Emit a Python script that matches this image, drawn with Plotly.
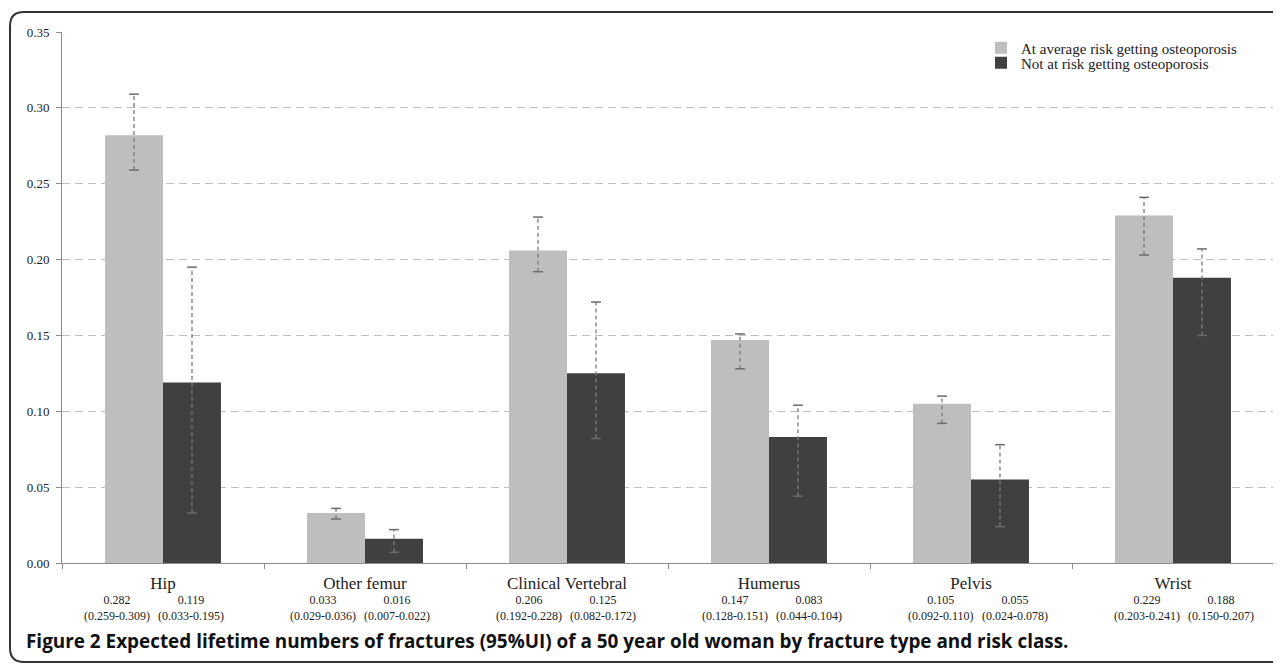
import plotly.graph_objects as go

categories = ["Hip", "Other femur", "Clinical Vertebral", "Humerus", "Pelvis", "Wrist"]
avg_risk = [0.282, 0.033, 0.206, 0.147, 0.105, 0.229]
avg_lo = [0.259, 0.029, 0.192, 0.128, 0.092, 0.203]
avg_hi = [0.309, 0.036, 0.228, 0.151, 0.110, 0.241]
no_risk = [0.119, 0.016, 0.125, 0.083, 0.055, 0.188]
no_lo = [0.033, 0.007, 0.082, 0.044, 0.024, 0.150]
no_hi = [0.195, 0.022, 0.172, 0.104, 0.078, 0.207]
series_names = ["At average risk getting osteoporosis", "Not at risk getting osteoporosis"]
y_ticks = [0.0, 0.05, 0.10, 0.15, 0.20, 0.25, 0.30, 0.35]
caption = "<b>Figure 2 Expected lifetime numbers of fractures (95%UI) of a 50 year old woman by fracture type and risk class.</b>"

# page has an 8px body margin; layout numbers below are in window pixels
OFF = 8
W, H = 1281 - OFF, 665 - OFF
PL, PR, PT, PB = 62, 1274, 32, 563          # plot area in window pixels
L, R, T, B = PL - OFF, W - (PR - OFF), PT - OFF, H - (PB - OFF)
PW, PH = PR - PL, PB - PT
BARGAP = 0.426
SERIF = "Liberation Serif, Times New Roman, serif"

def px_x(px):
    return (px - PL) / PW

def px_y(py):
    return (PB - py) / PH

fig = go.Figure()
colors = ["#bebebe", "#404040"]
for name, vals, col, grp, lg in [(series_names[0], avg_risk, colors[0], "a", "legend"),
                                  (series_names[1], no_risk, colors[1], "b", "legend2")]:
    fig.add_trace(go.Bar(x=categories, y=vals, name=name, marker_color=col,
                         marker_line_width=0, offsetgroup=grp, legend=lg))

def err_trace(lo, hi, grp):
    xs, ys = [], []
    for c, l, h in zip(categories, lo, hi):
        xs += [c, c, c]
        ys += [l, h, None]
    return go.Scatter(x=xs, y=ys, mode="lines+markers", offsetgroup=grp,
                      line=dict(color="#7a7a7a", width=1.3, dash="4px,3px"),
                      marker=dict(symbol="line-ew", size=7,
                                  line=dict(color="#6a6a6a", width=1.5)),
                      showlegend=False, hoverinfo="skip", connectgaps=False)

fig.add_trace(err_trace(avg_lo, avg_hi, "a"))
fig.add_trace(err_trace(no_lo, no_hi, "b"))

# value labels under each category (two columns)
annotations = []
for i, c in enumerate(categories):
    drift = -9 + 4 * i
    for side, v, lo, hi in [(-1, avg_risk[i], avg_lo[i], avg_hi[i]),
                            (1, no_risk[i], no_lo[i], no_hi[i])]:
        annotations.append(dict(
            x=i, xref="x", y=px_y(607.5), yref="paper",
            xshift=side * 37 + drift,
            text=f"{v:.3f}<br>({lo:.3f}-{hi:.3f})", showarrow=False,
            font=dict(family=SERIF, size=12, color="#222"),
            align="center", yanchor="middle", xanchor="center"))

annotations.append(dict(
    x=px_x(24), xref="paper", y=px_y(641), yref="paper", text=caption,
    showarrow=False, xanchor="left", yanchor="middle",
    font=dict(family="Open Sans, Noto Sans, sans-serif", size=18.9, color="#111")))

# rounded frame
x0, x1 = px_x(10), px_x(1300)
y0, y1 = px_y(12), px_y(662)
rx, ry = 14 / PW, 14 / PH
frame_path = (f"M {x1},{y0} L {x0+rx},{y0} Q {x0},{y0} {x0},{y0-ry} "
              f"L {x0},{y1+ry} Q {x0},{y1} {x0+rx},{y1} L {x1},{y1}")

legend_common = dict(xanchor="right", yanchor="middle", bgcolor="rgba(255,255,255,0)",
                     font=dict(family=SERIF, size=15, color="#222"), itemwidth=30)

fig.update_layout(
    width=W, height=H,
    margin=dict(l=L, r=R, t=T, b=B),
    paper_bgcolor="white", plot_bgcolor="white",
    barmode="group", bargap=BARGAP, bargroupgap=0,
    scattermode="group", scattergap=BARGAP,
    font=dict(family=SERIF, color="#222"),
    legend=dict(x=px_x(1242), y=px_y(48), **legend_common),
    legend2=dict(x=px_x(1214), y=px_y(63), **legend_common),
    annotations=annotations,
    shapes=[dict(type="path", xref="paper", yref="paper", path=frame_path,
                 line=dict(color="#333", width=2), layer="above")],
    xaxis=dict(showline=True, linecolor="#8c8c8c", linewidth=1, ticks="outside",
               tickson="boundaries", ticklen=5, tickcolor="#8c8c8c",
               ticklabelstandoff=5,
               tickfont=dict(family=SERIF, size=17, color="#222"), showgrid=False),
    yaxis=dict(range=[0, 0.35], tickvals=y_ticks, tickformat=".2f",
               showline=True, linecolor="#8c8c8c", linewidth=1, ticks="outside",
               ticklen=5, tickcolor="#8c8c8c", showgrid=True, gridcolor="#c0c0c0",
               griddash="8px,5px", gridwidth=1, zeroline=False, ticklabelstandoff=4,
               tickfont=dict(family=SERIF, size=13, color="#222")),
)

fig.write_html("out.html")
